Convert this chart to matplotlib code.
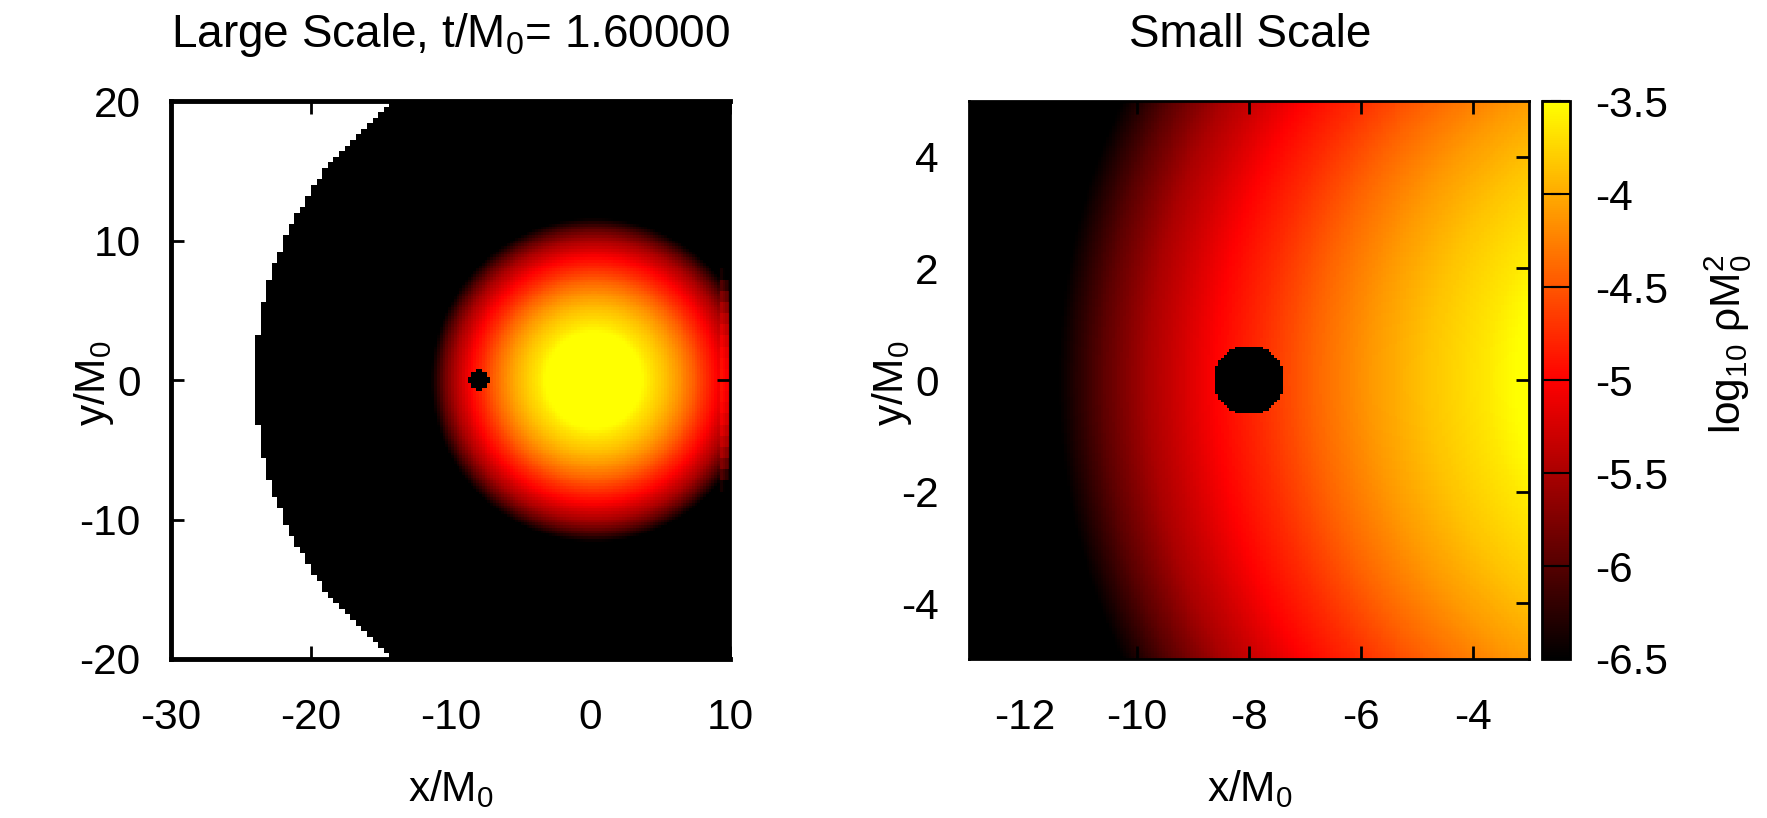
import matplotlib
matplotlib.use('Agg')
import matplotlib.pyplot as plt
import numpy as np
from matplotlib.colors import LinearSegmentedColormap

# radial density profile of the star
# (distance from star centre in M0, log10 rho M0^2)
profile_r = [0.0, 2.0, 3.5, 4.0, 5.0, 6.0, 7.0, 8.0, 8.8, 9.5, 10.0, 10.8, 11.6, 12.8, 26.0]
profile_logrho = [-3.0, -3.2, -3.52, -3.65, -3.85, -4.1, -4.4, -4.75, -5.0, -5.3, -5.5, -5.95, -6.5, -7.5, -9.0]

star_center = [0.2, 0.0]
star_stretch_y = 1.0
bh_center = [-8.0, 0.0]
bh_radius = 0.62
grid_center = [1.0, 0.0]
grid_radius = 25.0

large_xlim = [-30, 10]
large_ylim = [-20, 20]
large_xticks = [-30, -20, -10, 0, 10]
large_yticks = [-20, -10, 0, 10, 20]
small_xlim = [-13, -3]
small_ylim = [-5, 5]
small_xticks = [-12, -10, -8, -6, -4]
small_yticks = [-4, -2, 0, 2, 4]
cbar_ticks = [-6.5, -6, -5.5, -5, -4.5, -4, -3.5]
palette = ['black', 'red', 'yellow']
time_label = '1.60000'

plt.rcParams['font.family'] = ['Liberation Sans', 'DejaVu Sans']
plt.rcParams['mathtext.fontset'] = 'custom'
plt.rcParams['mathtext.rm'] = 'Liberation Sans'
plt.rcParams['axes.unicode_minus'] = False

FS = 30.5
TFS = 33


def log_rho(x, y, bh_grow=0.0):
    r = np.hypot(x - star_center[0], (y - star_center[1]) / star_stretch_y)
    v = np.interp(r, profile_r, profile_logrho)
    in_bh = np.hypot(x - bh_center[0], y - bh_center[1]) < bh_radius + bh_grow
    return np.where(in_bh, -10.0, v)


cmap = LinearSegmentedColormap.from_list('bry', palette)
cmap.set_under('black')
cmap.set_bad('white')
vmin, vmax = cbar_ticks[0], cbar_ticks[-1]

# large scale grid: 0.2 cells, the evolved domain is a 0.4-cell sphere
dx = 0.2
xc = np.arange(large_xlim[0] + dx / 2, large_xlim[1], dx)
yc = np.arange(large_ylim[0] + dx / 2, large_ylim[1], dx)
X, Y = np.meshgrid(xc, yc)
big = log_rho(X, Y, bh_grow=0.1)
strip = xc > 9.2  # coarser refinement level at the right edge
Yc = (np.floor(Y / 0.8) + 0.5) * 0.8
big[:, strip] = log_rho(X[:, strip] - 0.6, Yc[:, strip])
Xm = (np.floor(X / 0.4) + 0.5) * 0.4
Ym = (np.floor(Y / 0.4) + 0.5) * 0.4
outside = np.hypot(Xm - grid_center[0], Ym - grid_center[1]) > grid_radius
big = np.ma.masked_where(outside, big)

ds = 0.05
xs = np.arange(small_xlim[0] + ds / 2, small_xlim[1], ds)
ys = np.arange(small_ylim[0] + ds / 2, small_ylim[1], ds)
XS, YS = np.meshgrid(xs, ys)
small = log_rho(XS, YS)

fig = plt.figure(figsize=(17.67, 8.18), dpi=100)
ax1 = fig.add_axes([0.0968, 0.1944, 0.3164, 0.682])
ax2 = fig.add_axes([0.5484, 0.1944, 0.3169, 0.682])
cax = fig.add_axes([0.8727, 0.1944, 0.0158, 0.682])

ax1.imshow(big, extent=large_xlim + large_ylim, origin='lower', aspect='auto',
           interpolation='nearest', cmap=cmap, vmin=vmin, vmax=vmax)
im = ax2.imshow(small, extent=small_xlim + small_ylim, origin='lower', aspect='auto',
                interpolation='nearest', cmap=cmap, vmin=vmin, vmax=vmax)

for ax, xt, yt, xl, yl in ((ax1, large_xticks, large_yticks, large_xlim, large_ylim),
                           (ax2, small_xticks, small_yticks, small_xlim, small_ylim)):
    ax.set_xlim(xl)
    ax.set_ylim(yl)
    ax.set_xticks(xt)
    ax.set_yticks(yt)
    ax.tick_params(direction='in', length=9.5, width=2, top=True, right=True,
                   labelsize=FS, colors='black')
    ax.tick_params(axis='x', pad=28)
    ax.tick_params(axis='y', pad=22)
    for s in ax.spines.values():
        s.set_linewidth(2)

for side in ('left', 'bottom', 'top'):
    ax1.spines[side].set_linewidth(3.5)

cb = fig.colorbar(im, cax=cax, ticks=cbar_ticks)
cb.outline.set_linewidth(2)
cax.tick_params(direction='in', length=14, width=1.5, left=True, right=True,
                labelsize=FS, pad=18)
cax.set_yticklabels(['%g' % t for t in cbar_ticks])

fig.text(451 / 1767, 1 - 47 / 818, 'Large Scale, t/M$\\mathregular{_0}$= ' + time_label,
         ha='center', va='baseline', fontsize=TFS)
fig.text(1250 / 1767, 1 - 47 / 818, 'Small Scale', ha='center', va='baseline', fontsize=TFS)
for xpos in (451, 1250):
    fig.text(xpos / 1767, 1 - 789 / 818, 'x/M$\\mathregular{_0}$',
             ha='center', va='center', fontsize=FS)
for xpos in (94, 892):
    fig.text(xpos / 1767, 1 - 383 / 818, 'y/M$\\mathregular{_0}$',
             ha='center', va='center', rotation=90, fontsize=FS)
fig.text(1728 / 1767, 1 - 344 / 818, 'log$\\mathregular{_{10}}$ ρM$\\mathregular{_0^2}$',
         ha='center', va='center', rotation=90, fontsize=FS)

fig.savefig('out.png', dpi=100)
